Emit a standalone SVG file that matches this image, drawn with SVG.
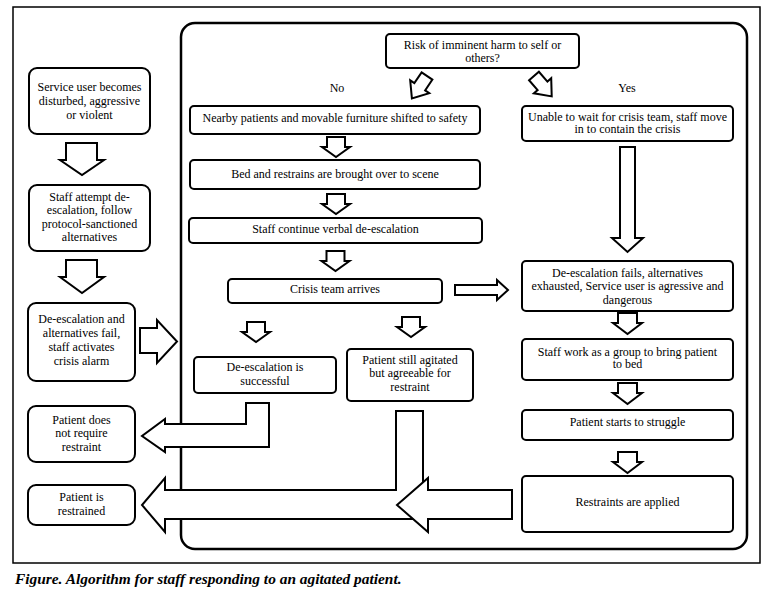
<svg xmlns="http://www.w3.org/2000/svg" xmlns:xlink="http://www.w3.org/1999/xlink" width="771" height="590" viewBox="0 0 771 590">
<style>
  .box{fill:#fff;stroke:#000;stroke-width:2}
  .arr{fill:#fff;stroke:#000;stroke-width:2;stroke-linejoin:miter}
  text{font-size:12px;fill:#000;text-anchor:middle}
  .cap{font-size:15.4px;font-weight:bold;font-style:italic;text-anchor:start}
</style>
<defs>
  <path id="sa" class="arr" d="M-9,0 H9 V10 H14 L0,20 L-14,10 H-9 Z"/>
  <path id="sb" class="arr" d="M-9.5,0 H9.5 V10 H14.5 L0,21 L-14.5,10 H-9.5 Z"/>
  <path id="da" class="arr" d="M-6.5,0 H6.5 V13 H11.5 L0,27 L-11.5,13 H-6.5 Z"/>
</defs>
<rect width="771" height="590" fill="#fff"/>
<rect x="13" y="7" width="747" height="556" fill="none" stroke="#000" stroke-width="1.5"/>
<g id="frame">
  <rect x="181" y="23" width="566" height="526" rx="14" fill="none" stroke="#000" stroke-width="2.5"/>
</g>
<g id="connectors">
  <path class="arr" d="M66,143 H97 V160 H104 L82,175 L60,160 H66 Z"/>
  <path class="arr" d="M66,260 H97 V277 H104 L82,293 L60,277 H66 Z"/>
  <path class="arr" d="M140,328 H157 V320 L177,341.5 L157,363 V353 H140 Z"/>
  <use xlink:href="#da" transform="translate(427,76) rotate(34)"/>
  <use xlink:href="#da" transform="translate(534,76) rotate(-41)"/>
  <use xlink:href="#sa" transform="translate(336,137)"/>
  <use xlink:href="#sa" transform="translate(336,194)"/>
  <use xlink:href="#sa" transform="translate(335.5,251)"/>
  <use xlink:href="#sa" transform="translate(256,322)"/>
  <use xlink:href="#sa" transform="translate(411,317)"/>
  <path class="arr" d="M455,285 H497 V280 L508,290 L497,300 V295 H455 Z"/>
  <path class="arr" d="M620,147 H635 V238 H643 L627.5,252 L612,238 H620 Z"/>
  <use xlink:href="#sb" transform="translate(627.5,313)"/>
  <use xlink:href="#sb" transform="translate(627.5,383)"/>
  <use xlink:href="#sb" transform="translate(627.5,452)"/>
  <path class="arr" d="M246,403 H269 V447 H165 V452 L142,436 L165,419 V424 H246 Z"/>
  <path class="arr" d="M396,411 H423 V519 H165 V532 L142,505 L165,478 V490 H396 Z"/>
  <path class="arr" d="M512,490 V519 H428 V532 L397,505 L428,478 V490 Z"/>
</g>
<g font-family="'Liberation Serif', 'Times New Roman', 'DejaVu Serif', serif">
<g id="n1"><rect class="box" x="29" y="68" width="121" height="66" rx="8"/>
  <text x="89.5" y="91">Service user becomes</text><text x="89.5" y="105">disturbed, aggressive</text><text x="89.5" y="119">or violent</text></g>
<g id="n2"><rect class="box" x="29" y="185" width="121" height="66" rx="8"/>
  <text x="89.5" y="201">Staff attempt de-</text><text x="89.5" y="214">escalation, follow</text><text x="89.5" y="228">protocol-sanctioned</text><text x="89.5" y="241">alternatives</text></g>
<g id="n3"><rect class="box" x="28" y="303" width="107" height="78" rx="8"/>
  <text x="81.5" y="323">De-escalation and</text><text x="81.5" y="337">alternatives fail,</text><text x="81.5" y="351">staff activates</text><text x="81.5" y="365">crisis alarm</text></g>
<g id="n4"><rect class="box" x="28" y="406" width="107" height="56" rx="8"/>
  <text x="81.5" y="424">Patient does</text><text x="81.5" y="437">not require</text><text x="81.5" y="451">restraint</text></g>
<g id="n5"><rect class="box" x="28" y="485" width="107" height="40" rx="8"/>
  <text x="81.5" y="501">Patient is</text><text x="81.5" y="515">restrained</text></g>
<g id="decision"><rect class="box" x="386" y="34" width="193" height="34" rx="4"/>
  <text x="482.5" y="49">Risk of imminent harm to self or</text><text x="482.5" y="62">others?</text></g>
<g id="lbl-no"><text x="337" y="92">No</text></g>
<g id="lbl-yes"><text x="627" y="92">Yes</text></g>
<g id="n6"><rect class="box" x="190" y="106" width="290" height="28" rx="4"/>
  <text x="335" y="122">Nearby patients and movable furniture shifted to safety</text></g>
<g id="n7"><rect class="box" x="190" y="160" width="290" height="29" rx="4"/>
  <text x="335" y="178">Bed and restrains are brought over to scene</text></g>
<g id="n8"><rect class="box" x="189" y="218" width="293" height="25" rx="4"/>
  <text x="335.5" y="233">Staff continue verbal de-escalation</text></g>
<g id="n9"><rect class="box" x="228" y="279" width="214" height="24" rx="4"/>
  <text x="335" y="293">Crisis team arrives</text></g>
<g id="n10"><rect class="box" x="194" y="357" width="142" height="36" rx="4"/>
  <text x="265" y="371">De-escalation is</text><text x="265" y="385">successful</text></g>
<g id="n11"><rect class="box" x="347" y="349" width="126" height="52" rx="4"/>
  <text x="410" y="364">Patient still agitated</text><text x="410" y="377">but agreeable for</text><text x="410" y="391">restraint</text></g>
<g id="n12"><rect class="box" x="522" y="106" width="211" height="35" rx="4"/>
  <text x="627.5" y="120.5">Unable to wait for crisis team, staff move</text><text x="627.5" y="133">in to contain the crisis</text></g>
<g id="n13"><rect class="box" x="522" y="261" width="211" height="50" rx="4"/>
  <text x="627.5" y="277">De-escalation fails, alternatives</text><text x="627.5" y="290">exhausted, Service user is agressive and</text><text x="627.5" y="304">dangerous</text></g>
<g id="n14"><rect class="box" x="522" y="339" width="211" height="41" rx="4"/>
  <text x="627.5" y="355.5">Staff work as a group to bring patient</text><text x="627.5" y="368">to bed</text></g>
<g id="n15"><rect class="box" x="522" y="410" width="211" height="30" rx="4"/>
  <text x="627.5" y="426">Patient starts to struggle</text></g>
<g id="n16"><rect class="box" x="522" y="476" width="211" height="56" rx="4"/>
  <text x="627.5" y="506">Restraints are applied</text></g>
<text class="cap" x="15" y="584">Figure.  Algorithm for staff responding to an agitated patient.</text>
</g>
</svg>
